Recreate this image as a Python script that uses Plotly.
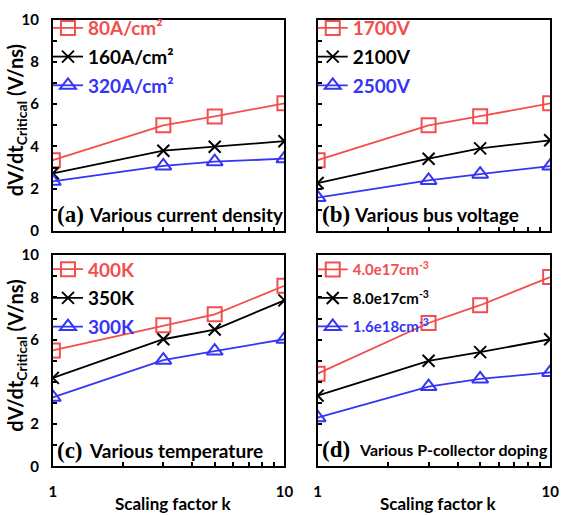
import plotly.graph_objects as go

W, H = 566, 515

# Scaling factor k (shared by all panels)
scaling_k = [1, 3, 5, 10]

# (a) various current density
a_names = ["80A/cm²", "160A/cm²", "320A/cm²"]
a_80 = [3.35, 5.0, 5.42, 6.04]
a_160 = [2.73, 3.8, 3.99, 4.25]
a_320 = [2.35, 3.08, 3.28, 3.42]

# (b) various bus voltage
b_names = ["1700V", "2100V", "2500V"]
b_1700 = [3.35, 5.0, 5.43, 6.04]
b_2100 = [2.27, 3.42, 3.91, 4.29]
b_2500 = [1.58, 2.39, 2.69, 3.07]

# (c) various temperature
c_names = ["400K", "350K", "300K"]
c_400 = [5.49, 6.68, 7.2, 8.55]
c_350 = [4.19, 6.02, 6.48, 7.86]
c_300 = [3.27, 5.03, 5.46, 6.02]

# (d) various P-collector doping
d_names = ["4.0e17cm<sup>-3</sup>", "8.0e17cm<sup>-3</sup>", "1.6e18cm<sup>-3</sup>"]
d_40e17 = [4.39, 6.79, 7.63, 8.96]
d_80e17 = [3.35, 5.0, 5.41, 6.02]
d_16e18 = [2.31, 3.78, 4.14, 4.45]

panel_tags = ["(a)", "(b)", "(c)", "(d)"]
panel_titles = ["Various current density", "Various bus voltage",
                "Various temperature", "Various P-collector doping"]

y_ticks = list(range(0, 11))
y_ticktext = [str(v) if v % 2 == 0 else "" for v in y_ticks]
x_ticks = list(range(1, 11))
x_ticktext = ["1"] + [""] * 8 + ["10"]

RED = "#F24E4E"
BLACK = "#000000"
BLUE = "#3535F5"
SANS = "Lato"
SERIF = "Liberation Serif"

def px(x):
    return x / W

def py(y):
    return 1 - y / H

# panel boxes in pixels: (left, right, top, bottom)
boxes = [(50, 287, 10, 229), (321, 559, 10, 229),
         (50, 287, 254, 473), (321, 559, 254, 473)]

panels = [
    (a_names, [a_80, a_160, a_320]),
    (b_names, [b_1700, b_2100, b_2500]),
    (c_names, [c_400, c_350, c_300]),
    (d_names, [d_40e17, d_80e17, d_16e18]),
]

styles = [
    dict(color=RED, symbol="square-open", size=14),
    dict(color=BLACK, symbol="x-thin-open", size=12),
    dict(color=BLUE, symbol="triangle-up-open", size=14),
]

# legend placement per panel: (top offset in px, gap between entries, font size)
legend_cfg = [(-11, 1, 19), (-11, 1, 19), (-5, 1, 19), (-2, 6, 15)]
caption_sizes = [18.7, 19, 19, 16]

fig = go.Figure()
layout = dict(width=W, height=H, margin=dict(l=0, r=0, t=0, b=0),
              paper_bgcolor="white", plot_bgcolor="white",
              font=dict(family=SANS, size=14, color="black", weight="bold"))
annotations = []

for i, ((names, series), box) in enumerate(zip(panels, boxes)):
    n = i + 1
    xa = "xaxis" if n == 1 else f"xaxis{n}"
    ya = "yaxis" if n == 1 else f"yaxis{n}"
    xref = "x" if n == 1 else f"x{n}"
    yref = "y" if n == 1 else f"y{n}"
    leg = "legend" if n == 1 else f"legend{n}"
    l, r, t, b = box
    bottom_row = i >= 2
    left_col = i % 2 == 0

    for j, (name, vals, st) in enumerate(zip(names, series, styles)):
        fig.add_trace(go.Scatter(
            x=scaling_k, y=vals, mode="lines+markers",
            name=f'<span style="color:{st["color"]}">{name}</span>',
            legendgroup=f"p{n}s{j}",
            line=dict(color=st["color"], width=1.8),
            marker=dict(symbol=st["symbol"], size=st["size"], color=st["color"],
                        line=dict(color=st["color"], width=2)),
            xaxis=xref, yaxis=yref, legend=leg))

    layout[xa] = dict(
        domain=[px(l), px(r)], anchor=yref, type="log", range=[0, 1],
        tickmode="array", tickvals=x_ticks,
        ticktext=x_ticktext if bottom_row else [""] * 10,
        ticks="inside", ticklen=4, tickwidth=1.5, tickcolor="black",
        showline=True, mirror=True, linewidth=2, linecolor="black",
        showgrid=False, zeroline=False, ticklabelstandoff=11,
        tickfont=dict(size=15, family=SANS, weight="bold"))
    layout[ya] = dict(
        domain=[py(b), py(t)], anchor=xref, range=[0, 10],
        tickmode="array", tickvals=y_ticks,
        ticktext=y_ticktext if left_col else [""] * 11,
        ticks="inside", ticklen=4, tickwidth=1.5, tickcolor="black",
        showline=True, mirror=True, linewidth=2, linecolor="black",
        showgrid=False, zeroline=False, ticklabelstandoff=9,
        tickfont=dict(size=15, family=SANS, weight="bold"))

    top_off, gap, fsize = legend_cfg[i]
    layout[leg] = dict(
        x=px(l - 5), y=py(t + top_off),
        xanchor="left", yanchor="top",
        bgcolor="rgba(0,0,0,0)", borderwidth=0, itemwidth=30,
        tracegroupgap=gap, itemclick=False,
        font=dict(family=SANS, size=fsize, weight="bold"))

    # panel caption: serif tag followed by sans description
    cap_y = b - 17 if i < 3 else b - 18
    annotations.append(dict(
        text=f"<b>{panel_tags[i]}</b>", x=px(l + 2), y=py(cap_y),
        xref="paper", yref="paper", xanchor="left", yanchor="middle",
        showarrow=False, font=dict(family=SERIF, size=23, color="black")))
    annotations.append(dict(
        text=panel_titles[i], x=px(l + (40 if i == 3 else 35)), y=py(cap_y),
        xref="paper", yref="paper", xanchor="left", yanchor="middle",
        showarrow=False,
        font=dict(family=SANS, size=caption_sizes[i], color="black", weight="bold")))

    if left_col:
        annotations.append(dict(
            text="dV/dt<sub>Critical</sub> (V/ns)", x=px(13), y=py((t + b) / 2 - 5),
            xref="paper", yref="paper", xanchor="center", yanchor="middle",
            textangle=-90, showarrow=False,
            font=dict(family=SANS, size=20, color="black", weight="bold")))
    if bottom_row:
        annotations.append(dict(
            text="Scaling factor k", x=px((l + r) / 2 + 4), y=py(511),
            xref="paper", yref="paper", xanchor="center", yanchor="middle",
            showarrow=False,
            font=dict(family=SANS, size=17, color="black", weight="bold")))

layout["annotations"] = annotations
fig.update_layout(**layout)
fig.write_html("out.html")
